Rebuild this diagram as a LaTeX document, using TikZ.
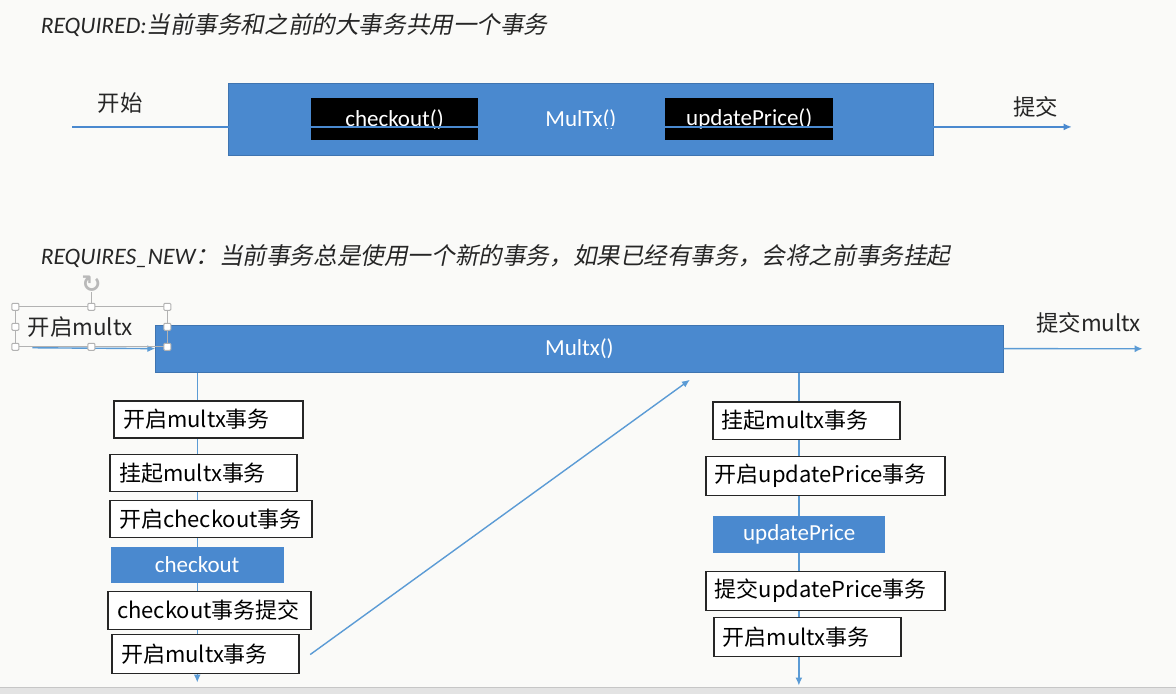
\documentclass[tikz,border=0pt]{standalone}
\usepackage{fontspec}
\setmainfont{Noto Sans CJK SC}
\newfontfamily\latin{Carlito}
\newfontfamily\symb{DejaVu Sans}
\newfontfamily\zhit[FakeSlant=0.2]{Noto Sans CJK SC}
\usepackage{tikz}
\usetikzlibrary{arrows.meta,backgrounds}
\definecolor{bar}{HTML}{4A89CF}
\definecolor{flowc}{HTML}{5B9BD5}
\definecolor{paper}{HTML}{FAFAF8}

\tikzset{
  flow/.style={draw=flowc, line width=0.7pt, -{Latex[length=4pt,width=3.5pt]}},
  title/.style={anchor=west, inner sep=0pt, text=black!85, font=\fontsize{11.8}{14}\selectfont},
  label/.style={inner sep=0pt, text=black!85, font=\fontsize{11.2}{13}\selectfont},
  bigbar/.style={fill=bar, draw=bar!85!black, line width=0.4pt, anchor=north west, text=white, font=\latin\fontsize{11.5}{13}\selectfont},
  blackbox/.style={fill=black, anchor=north west, minimum width=84pt, minimum height=21pt, inner sep=0pt, text=white, font=\latin\fontsize{11.5}{13}\selectfont},
  stepbox/.style={draw=black!85, line width=0.9pt, fill=white, anchor=north west, inner xsep=4.5pt, inner ysep=0pt, align=left, font=\fontsize{11}{13}\selectfont},
  callbox/.style={fill=bar, anchor=north west, inner sep=0pt, text=white, font=\latin\fontsize{11.5}{13}\selectfont},
  handle/.style={draw=gray!60, fill=white, line width=0.5pt, minimum size=3.5pt, inner sep=0pt, rounded corners=0.5pt},
}

\begin{document}
\begin{tikzpicture}[x=0.5pt,y=-0.5pt]
  \begin{pgfonlayer}{background}
    \fill[paper] (0,0) rectangle (1176,694);
  \end{pgfonlayer}
  \fill[gray!22] (0,688) rectangle (1176,694);
  \draw[gray!45] (0,688) -- (1176,688);

  % REQUIRED
  \node[title] (t1) at (40,25) {{\latin\itshape REQUIRED:}{\zhit 当前事务和之前的大事务共用一个事务}};
  \node[bigbar, minimum width=352.5pt, minimum height=36pt] (req) at (228,83) {MulTx()};
  \node[blackbox] (co) at (310,98) {checkout()};
  \node[blackbox] (up) at (665,98) {updatePrice()};
  \node[label] (begin) at (120,103) {开始};
  \node[label] (commit) at (1036,107) {提交};
  \coordinate (s1) at (72,127);
  \coordinate (e1) at (1072,127);
  \draw[flow, draw=bar] (s1) -- (e1);

  % REQUIRES_NEW
  \node[title] (t2) at (40,256) {{\latin\itshape REQUIRES\_NEW}{\zhit ：当前事务总是使用一个新的事务，如果已经有事务，会将之前事务挂起}};
  \node[bigbar, minimum width=424pt, minimum height=23.5pt] (new) at (155,325) {Multx()};
  \node[label] (commit2) at (1089,323) {提交multx};
  \coordinate (s2) at (32,348);
  \coordinate (e2) at (1143,349);
  \draw[flow] (s2) -- (new.west);
  \draw[flow] (new.east) -- (e2);

  % selected text box
  \draw[gray!60, line width=0.5pt] (15,307) rectangle (167,347);
  \node[label, anchor=west] (open) at (27,327) {开启multx};
  \node[inner sep=0pt, text=gray!55, font=\symb\bfseries\fontsize{12}{12}\selectfont] (rot) at (91,284) {↻};
  \draw[gray!60, line width=0.5pt] (rot.south) -- (91,307);
  \foreach \x/\y in {15/307,91/307,167/307,15/327,167/327,15/347,91/347,167/347}
    \node[handle] at (\x,\y) {};

  % multx side
  \node[stepbox, text width=85.5pt, minimum height=18.5pt] (m1) at (113,400) {开启multx事务};
  \node[stepbox, text width=84.5pt, minimum height=18.5pt] (m2) at (109,454) {挂起multx事务};
  \node[stepbox, text width=92pt, minimum height=18.5pt] (m3) at (109,500) {开启checkout事务};
  \node[callbox, minimum width=86.5pt, minimum height=18pt] (m4) at (110,547) {checkout};
  \node[stepbox, text width=92.5pt, minimum height=19pt] (m5) at (107,591) {checkout事务提交};
  \node[stepbox, text width=84.5pt, minimum height=19.5pt] (m6) at (111,634) {开启multx事务};

  % updatePrice side
  \node[stepbox, text width=84.5pt, minimum height=19pt] (u1) at (712,401) {挂起multx事务};
  \node[stepbox, text width=110.5pt, minimum height=19.5pt] (u2) at (705,456) {开启updatePrice事务};
  \node[callbox, minimum width=86pt, minimum height=18.5pt] (u3) at (713,516) {updatePrice};
  \node[stepbox, text width=110.5pt, minimum height=19.5pt] (u4) at (705,571) {提交updatePrice事务};
  \node[stepbox, text width=84.5pt, minimum height=19.5pt] (u5) at (713,617) {开启multx事务};

  \coordinate (l0) at (197,372);
  \coordinate (l1) at (197,683);
  \coordinate (r0) at (799,372);
  \coordinate (r1) at (799,686);
  \coordinate (d0) at (310,655);
  \coordinate (d1) at (690,380);
  \begin{pgfonlayer}{background}
    \draw[flow] (l0) -- (l1);
    \draw[flow] (r0) -- (r1);
  \end{pgfonlayer}
  \draw[flow] (d0) -- (d1);
\end{tikzpicture}
\end{document}
